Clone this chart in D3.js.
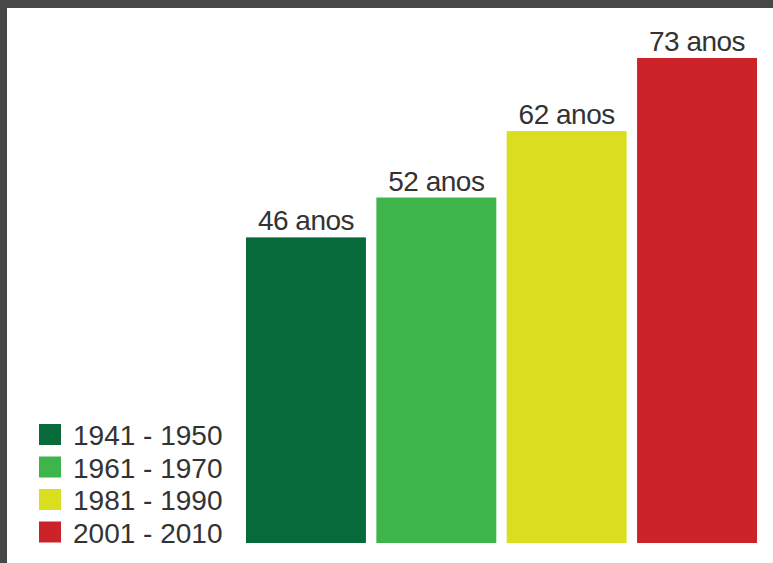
<!DOCTYPE html>
<html>
<head>
<meta charset="utf-8">
<script src="https://cdn.jsdelivr.net/npm/d3@7"></script>
<style>
	html, body { margin: 0; padding: 0; background: #fff; }
	svg { display: block; }
</style>
</head>
<body>
<div id="chart"></div>
<script>
	// data
	var periods = ["1941 - 1950", "1961 - 1970", "1981 - 1990", "2001 - 2010"];
	var lifeYears = [46, 52, 62, 73];
	var barLabels = ["46 anos", "52 anos", "62 anos", "73 anos"];
	var colors = ["#076a3a", "#3db54b", "#d9df1f", "#cc232b"];

	var W = 773, H = 563;

	var svg = d3.select("#chart").append("svg")
		.attr("width", W)
		.attr("height", H);

	// dark frame on top and left
	svg.append("rect")
		.attr("x", 0).attr("y", 0)
		.attr("width", W).attr("height", 8)
		.attr("fill", "#474747");
	svg.append("rect")
		.attr("x", 0).attr("y", 0)
		.attr("width", 7).attr("height", H)
		.attr("fill", "#474747");

	// scales
	var x = d3.scaleBand()
		.domain(periods)
		.range([246, 757])
		.paddingInner(0.08)
		.paddingOuter(0);

	var y = d3.scaleLinear()
		.domain([0, 73])
		.range([543, 58]);

	var color = d3.scaleOrdinal().domain(periods).range(colors);

	var data = periods.map(function(p, i) {
		return { period: p, value: lifeYears[i], label: barLabels[i] };
	});

	// bars
	svg.selectAll("rect.bar")
		.data(data)
		.enter()
		.append("rect")
		.attr("class", "bar")
		.attr("x", function(d) { return x(d.period); })
		.attr("y", function(d) { return y(d.value); })
		.attr("width", x.bandwidth())
		.attr("height", function(d) { return y(0) - y(d.value); })
		.attr("fill", function(d) { return color(d.period); });

	// value labels
	svg.selectAll("text.value")
		.data(data)
		.enter()
		.append("text")
		.attr("class", "value")
		.attr("x", function(d) { return x(d.period) + x.bandwidth() / 2; })
		.attr("y", function(d) { return y(d.value) - 7; })
		.attr("text-anchor", "middle")
		.attr("font-family", "Liberation Sans, Arial, sans-serif")
		.attr("font-size", 28)
		.attr("letter-spacing", "-0.5px")
		.attr("fill", "#333")
		.text(function(d) { return d.label; });

	// legend
	var legendY = d3.scalePoint()
		.domain(periods)
		.range([424, 521.5]);

	var legend = svg.append("g").attr("class", "legend");

	var item = legend.selectAll("g")
		.data(periods)
		.enter()
		.append("g")
		.attr("transform", function(d) { return "translate(39," + legendY(d) + ")"; });

	item.append("rect")
		.attr("width", 22)
		.attr("height", 21)
		.attr("fill", function(d) { return color(d); });

	item.append("text")
		.attr("x", 34)
		.attr("y", 21)
		.attr("font-family", "Liberation Sans, Arial, sans-serif")
		.attr("font-size", 28)
		.attr("fill", "#333")
		.text(function(d) { return d; });
</script>
</body>
</html>
